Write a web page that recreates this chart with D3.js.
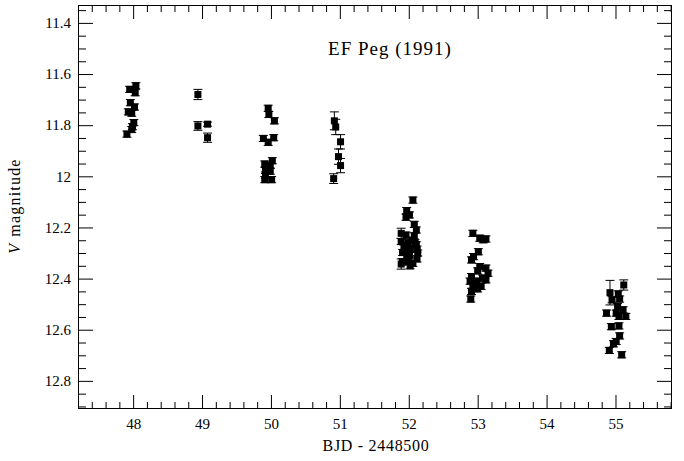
<!DOCTYPE html>
<html>
<head>
<meta charset="utf-8">
<script src="https://cdn.jsdelivr.net/npm/d3@7"></script>
<style>
	html, body { margin: 0; padding: 0; background: #fff; }
	svg { display: block; font-family: "Liberation Serif", "Times New Roman", serif; }
	.axis path, .axis line { stroke: #000; stroke-width: 1; }
	.axis text { font-size: 15px; fill: #000; font-family: "Liberation Serif", serif; }
</style>
</head>
<body>
<svg id="chart" width="684" height="461"></svg>
<script>
// [BJD - 2448500, V mag, error]; error defaults to a small value
const night48 = [
	[47.91, 11.835], [47.93, 11.748], [47.95, 11.660], [47.96, 11.712], [47.98, 11.753],
	[47.98, 11.817], [47.99, 11.806], [48.01, 11.790], [48.02, 11.729], [48.03, 11.673],
	[48.04, 11.646]
];
const night49 = [
	[48.94, 11.680, 0.020], [48.94, 11.803, 0.017], [49.08, 11.796, 0.008], [49.08, 11.849, 0.018]
];
const night50 = [
	[49.89, 11.852], [49.91, 11.952], [49.91, 12.013], [49.92, 11.977], [49.92, 11.995],
	[49.96, 11.734], [49.96, 11.867], [49.97, 11.758], [49.99, 11.957], [49.99, 11.980],
	[50.01, 12.013], [50.02, 11.939], [50.04, 11.849], [50.05, 11.783]
];
const night51 = [
	[50.91, 12.009, 0.019], [50.92, 11.783, 0.035], [50.94, 11.807, 0.030],
	[50.98, 11.923, 0.030], [51.01, 11.865, 0.028], [51.01, 11.958, 0.028]
];
const night52 = [
	[52.06, 12.093], [51.97, 12.134], [52.01, 12.151], [51.96, 12.160], [52.08, 12.188],
	[52.11, 12.210], [51.89, 12.223, 0.020], [51.96, 12.230], [52.08, 12.233], [51.89, 12.255],
	[51.99, 12.260], [52.11, 12.268], [51.93, 12.281], [52.02, 12.285], [52.12, 12.285],
	[51.91, 12.298], [52.01, 12.307], [52.13, 12.300], [51.91, 12.334], [52.00, 12.334],
	[52.06, 12.340], [52.12, 12.323], [52.02, 12.350], [51.89, 12.343, 0.020], [51.95, 12.270],
	[52.05, 12.250], [51.97, 12.315], [52.09, 12.260]
];
const night53 = [
	[52.93, 12.223], [53.03, 12.242], [53.12, 12.245], [53.08, 12.248], [53.01, 12.295],
	[52.94, 12.314], [52.91, 12.327], [53.03, 12.353], [53.12, 12.359], [53.00, 12.370],
	[53.15, 12.379], [52.91, 12.392], [53.07, 12.398], [53.12, 12.405], [52.89, 12.410],
	[52.99, 12.410], [52.93, 12.430], [53.05, 12.430], [52.91, 12.450], [52.96, 12.420],
	[52.90, 12.480], [53.00, 12.440]
];
const night55 = [
	[54.92, 12.455, 0.048], [55.12, 12.425, 0.020], [55.04, 12.460], [54.95, 12.483],
	[55.06, 12.480], [54.87, 12.535], [55.03, 12.510], [55.01, 12.535], [55.11, 12.522],
	[55.15, 12.548], [55.05, 12.548], [54.94, 12.588], [55.05, 12.585], [55.06, 12.624],
	[55.01, 12.646], [54.97, 12.655], [54.91, 12.681], [55.09, 12.698]
];

const xMajor = [48, 49, 50, 51, 52, 53, 54, 55];
const yMajor = [11.4, 11.6, 11.8, 12.0, 12.2, 12.4, 12.6, 12.8];
const defaultErr = 0.012;

const width = 684, height = 461;
const margin = { top: 5, right: 12, bottom: 52, left: 78 };
const iw = width - margin.left - margin.right;
const ih = height - margin.top - margin.bottom;

const svg = d3.select("#chart");
const g = svg.append("g").attr("transform", `translate(${margin.left},${margin.top})`);

const x = d3.scaleLinear().domain([47.2, 55.82]).range([0, iw]);
const y = d3.scaleLinear().domain([11.33, 12.91]).range([0, ih]);

const xMinor = d3.range(47.2, 55.81, 0.2).map((v) => +v.toFixed(2)).filter((v) => !xMajor.includes(v));
const yMinor = d3.range(11.35, 12.91, 0.05).map((v) => +v.toFixed(2)).filter((v) => !yMajor.some((m) => Math.abs(m - v) < 1e-6));

const fmt = (d) => String(+d.toFixed(1));

function addAxis(axisFn, scale, major, minor, transform, bigLen, smallLen, pad) {
	const a1 = g.append("g").attr("class", "axis").attr("transform", transform)
		.call(axisFn(scale).tickValues(major).tickSizeInner(-bigLen).tickSizeOuter(0)
			.tickPadding(pad || 0).tickFormat(pad ? fmt : () => ""));
	a1.select(".domain").remove();
	const a2 = g.append("g").attr("class", "axis").attr("transform", transform)
		.call(axisFn(scale).tickValues(minor).tickSizeInner(-smallLen).tickSizeOuter(0).tickFormat(() => ""));
	a2.select(".domain").remove();
	return a1;
}

addAxis(d3.axisBottom, x, xMajor, xMinor, `translate(0,${ih})`, 14, 7, 9);
addAxis(d3.axisTop, x, xMajor, xMinor, "translate(0,0)", 14, 7, 0);
addAxis(d3.axisLeft, y, yMajor, yMinor, "translate(0,0)", 15, 8, 7);
addAxis(d3.axisRight, y, yMajor, yMinor, `translate(${iw},0)`, 15, 8, 0);

g.append("rect")
	.attr("x", 0.5).attr("y", 0.5)
	.attr("width", iw - 1).attr("height", ih - 1)
	.attr("fill", "none").attr("stroke", "#000").attr("stroke-width", 1);

const points = [night48, night49, night50, night51, night52, night53, night55]
	.flat()
	.map(([t, v, e]) => ({ t, v, e: e === undefined ? defaultErr : e }));

const capW = 9;
const err = g.append("g").attr("stroke", "#000").attr("stroke-width", 1);
points.forEach((d) => {
	const cx = x(d.t);
	const y0 = y(d.v - d.e), y1 = y(d.v + d.e);
	err.append("line").attr("x1", cx).attr("x2", cx).attr("y1", y0).attr("y2", y1);
	err.append("line").attr("x1", cx - capW / 2).attr("x2", cx + capW / 2).attr("y1", y0).attr("y2", y0);
	err.append("line").attr("x1", cx - capW / 2).attr("x2", cx + capW / 2).attr("y1", y1).attr("y2", y1);
});

const sq = 7;
g.append("g")
	.selectAll("rect")
	.data(points)
	.join("rect")
	.attr("x", (d) => x(d.t) - sq / 2)
	.attr("y", (d) => y(d.v) - sq / 2)
	.attr("width", sq)
	.attr("height", sq)
	.attr("fill", "#000");

svg.append("text")
	.attr("x", 390)
	.attr("y", 55)
	.attr("text-anchor", "middle")
	.attr("font-size", 19)
	.attr("letter-spacing", 1)
	.text("EF Peg (1991)");

svg.append("text")
	.attr("x", 376)
	.attr("y", 451)
	.attr("text-anchor", "middle")
	.attr("font-size", 16)
	.attr("letter-spacing", 0.7)
	.text("BJD - 2448500");

const yt = svg.append("text")
	.attr("transform", "translate(20,206) rotate(-90)")
	.attr("text-anchor", "middle")
	.attr("font-size", 16)
	.attr("letter-spacing", 1.2);
yt.append("tspan").attr("font-style", "italic").text("V");
yt.append("tspan").attr("dx", 6).text("magnitude");
</script>
</body>
</html>
